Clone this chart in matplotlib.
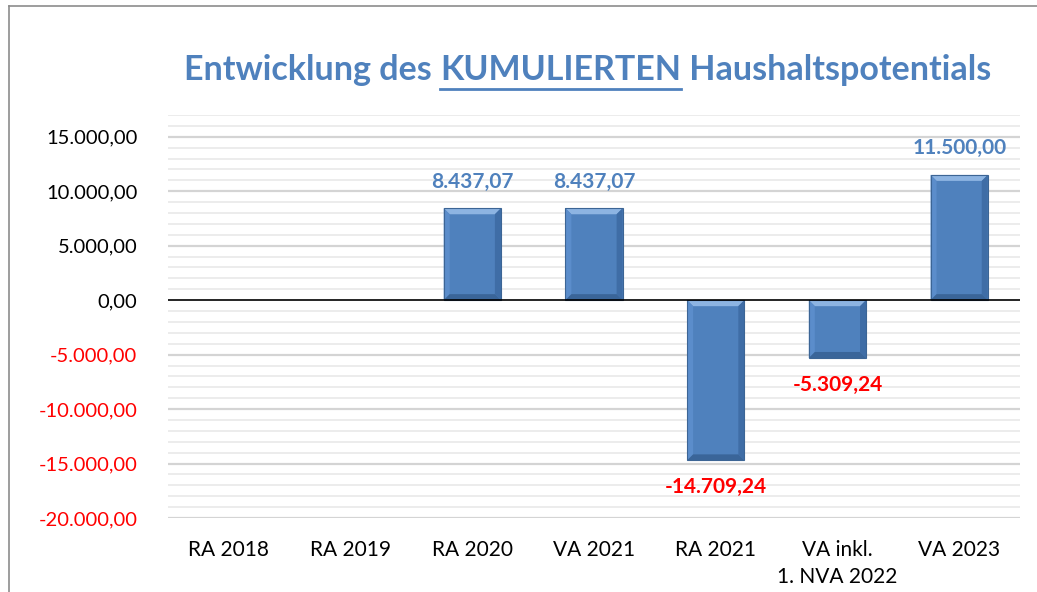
import matplotlib
matplotlib.use('Agg')
import matplotlib.pyplot as plt
from matplotlib.patches import Polygon, Rectangle
from matplotlib.lines import Line2D
import numpy as np

plt.rcParams['font.family'] = ['Lato', 'DejaVu Sans']

# Daten
kategorien = ['RA 2018', 'RA 2019', 'RA 2020', 'VA 2021', 'RA 2021', 'VA inkl.\n1. NVA 2022', 'VA 2023']
werte = [0, 0, 8437.07, 8437.07, -14709.24, -5309.24, 11500.00]
beschriftet = [False, False, True, True, True, True, True]
y_ticks = [-20000, -15000, -10000, -5000, 0, 5000, 10000, 15000]

blau = '#4F81BD'
titel_blau = '#4F81BD'
rot = '#FF0000'


def de_format(v):
    s = f'{v:,.2f}'
    return s.replace(',', 'X').replace('.', ',').replace('X', '.')


fig = plt.figure(figsize=(10.37, 5.92), dpi=100)
ax = fig.add_axes([168 / 1037, 1 - 518 / 592, (1020 - 168) / 1037, (518 - 115) / 592])

x = np.arange(len(kategorien))
ax.set_xlim(-0.5, len(kategorien) - 0.5)
ax.set_ylim(-20000, 17000)

# Gitternetz
for g in range(-20000, 17001, 1000):
    if g == 0:
        continue
    major = g % 5000 == 0
    ax.axhline(g, color='#D4D4D4' if major else '#EBEBEB', lw=1.6 if major else 1.3, zorder=0)

bars = ax.bar(x, werte, width=0.47, color=blau, linewidth=0, zorder=2)

# Bevel-Effekt
fig.canvas.draw()
px_x = ax.transData.transform((1, 0))[0] - ax.transData.transform((0, 0))[0]
px_y = ax.transData.transform((0, 1000))[1] - ax.transData.transform((0, 0))[1]
bx = 6 / px_x
by = 6 / px_y * 1000
for b, v in zip(bars, werte):
    if v == 0:
        continue
    x0, x1 = b.get_x(), b.get_x() + b.get_width()
    y0, y1 = min(0, v), max(0, v)
    ix0, ix1, iy0, iy1 = x0 + bx, x1 - bx, y0 + by, y1 - by
    ax.add_patch(Polygon([(x0, y1), (x1, y1), (ix1, iy1), (ix0, iy1)], color='#8DB4E2', zorder=3, lw=0))
    ax.add_patch(Polygon([(x0, y0), (x0, y1), (ix0, iy1), (ix0, iy0)], color='#5B8DCB', zorder=3, lw=0))
    ax.add_patch(Polygon([(x1, y0), (x1, y1), (ix1, iy1), (ix1, iy0)], color='#3F6DA6', zorder=3, lw=0))
    ax.add_patch(Polygon([(x0, y0), (x1, y0), (ix1, iy0), (ix0, iy0)], color='#3A6599', zorder=3, lw=0))
    ax.add_patch(Rectangle((x0, y0), x1 - x0, y1 - y0, fill=False, ec='#3C6595', lw=0.8, zorder=4))

ax.axhline(0, color='black', lw=1.2, zorder=5)

# Datenbeschriftungen
for xi, v, show in zip(x, werte, beschriftet):
    if not show:
        continue
    if v >= 0:
        ax.annotate(de_format(v), (xi, v), xytext=(0, 12), textcoords='offset points',
                    ha='center', va='bottom', color=titel_blau, fontsize=15, fontweight='bold')
    else:
        ax.annotate(de_format(v), (xi, v), xytext=(0, -12), textcoords='offset points',
                    ha='center', va='top', color=rot, fontsize=15, fontweight='bold')

ax.set_yticks(y_ticks)
ax.set_yticklabels([de_format(t) for t in y_ticks], fontsize=14.5)
for lbl, t in zip(ax.get_yticklabels(), y_ticks):
    if t < 0:
        lbl.set_color(rot)
ax.set_xticks(x)
ax.set_xticklabels(kategorien, fontsize=15, linespacing=1.45, va='top')
ax.tick_params(length=0)
ax.tick_params(axis='x', pad=16)
ax.tick_params(axis='y', pad=22)
for s in ax.spines.values():
    s.set_visible(False)

# Rahmen des Diagramms
fig.add_artist(Line2D([9 / 1037, 1.0], [1 - 6 / 592, 1 - 6 / 592], color='#8C8C8C', lw=1.2))
fig.add_artist(Line2D([9 / 1037, 9 / 1037], [0, 1 - 6 / 592], color='#8C8C8C', lw=1.2))

# Titel mit Unterstreichung
teile = ['Entwicklung des ', 'KUMULIERTEN', ' Haushaltspotentials']
ty = 1 - 80 / 592
texte = [fig.text(0, ty, t, fontsize=24.5, fontweight='bold', color=titel_blau, va='baseline') for t in teile]
fig.canvas.draw()
r = fig.canvas.get_renderer()
breiten = [t.get_window_extent(r).width / fig.bbox.width for t in texte]
start = 588 / 1037 - sum(breiten) / 2
pos = start
for t, w in zip(texte, breiten):
    t.set_x(pos)
    pos += w
ux0 = start + breiten[0]
fig.add_artist(Line2D([ux0, ux0 + breiten[1]], [1 - 89 / 592, 1 - 89 / 592], color=titel_blau, lw=2))

fig.savefig('out.png', dpi=100)
